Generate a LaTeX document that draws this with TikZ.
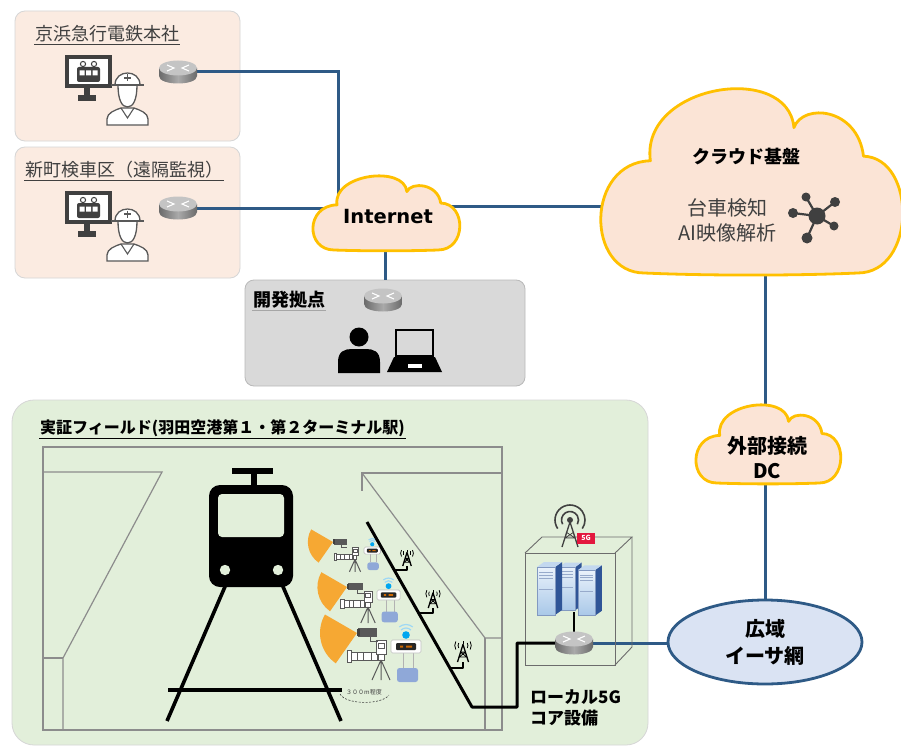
\documentclass[tikz,border=0pt]{standalone}
\usepackage{fontspec}
\setmainfont{Noto Sans CJK JP}
\newfontfamily\inetfont{DejaVu Sans}
\usetikzlibrary{shapes.geometric}

\definecolor{netblue}{HTML}{2E5A86}
\definecolor{peach}{HTML}{FBEBE1}
\definecolor{boxedge}{HTML}{D6D6D6}
\definecolor{cloudfill}{HTML}{FBE4D6}
\definecolor{cloudedge}{HTML}{FFC000}
\definecolor{fieldgreen}{HTML}{E2EFDA}
\definecolor{devgray}{HTML}{D9D9D9}
\definecolor{wanfill}{HTML}{DAE3F3}
\definecolor{darktext}{HTML}{404040}
\definecolor{icondark}{HTML}{404040}
\definecolor{iconline}{HTML}{595959}
\definecolor{trackgray}{HTML}{8C8C8C}
\definecolor{fanorange}{HTML}{F6A833}
\definecolor{wifiblue}{HTML}{00A6F0}
\definecolor{wifilight}{HTML}{9ED8F5}
\definecolor{battblue}{HTML}{8FA8D8}
\definecolor{badgered}{HTML}{E3173E}
\definecolor{srvlight}{HTML}{EAF2FB}
\definecolor{srvmid}{HTML}{A9C8E8}
\definecolor{srvdark}{HTML}{2F5597}
\definecolor{routertop}{HTML}{C4C4C4}
\definecolor{routerside}{HTML}{858585}

\pgfdeclarelayer{back}
\pgfdeclarelayer{wires}
\pgfsetlayers{back,wires,main}

% cloud outline in unit coordinates, placed at (#1,#2) with half sizes #3 x #4
\newcommand{\cloudat}[4]{%
  \path[cloudbody, shift={(#1,#2)}, xscale=#3, yscale=#4]
    (-0.72,1) .. controls (-1.12,1) and (-1.12,-0.2) .. (-0.68,-0.22)
    .. controls (-0.75,-1.05) and (0.25,-1.3) .. (0.29,-0.58)
    .. controls (0.35,-0.85) and (0.72,-0.8) .. (0.76,-0.27)
    .. controls (1.12,-0.25) and (1.12,1) .. (0.72,1)
    .. controls (0.3,1.03) and (-0.3,1.03) .. (-0.72,1) -- cycle;}

\tikzset{
  router/.pic={
    \shade[left color=routerside!80!black, right color=routerside!80!black, middle color=routerside!70!white]
      (-19,-4) -- (-19,4) .. controls (-19,14) and (19,14) .. (19,4) -- (19,-4) -- cycle;
    \fill[routertop] (0,-4) ellipse [x radius=19, y radius=7.5];
    \draw[white, line width=1.1pt] (-11,-7) -- (-4,-4) -- (-11,-1) (11,-7) -- (4,-4) -- (11,-1);
    \node[inner sep=0pt, minimum width=38pt, minimum height=24pt] (-n) at (0,0) {};
  },
  operator/.pic={
    % monitor showing a train
    \fill[icondark] (0,0) rectangle (47,33);
    \fill[white] (4,4) rectangle (43,29);
    \fill[icondark] (19,33) rectangle (25,40);
    \fill[icondark] (13,40) rectangle (31,46);
    \fill[icondark, rounded corners=2pt] (12,12) rectangle (35,27);
    \draw[icondark, fill=white, line width=1pt] (18,9) circle (2.6) (29,9) circle (2.6);
    \fill[white] (14.5,15.5) rectangle (19.5,20.5) (21,15.5) rectangle (26,20.5) (27.5,15.5) rectangle (32.5,20.5);
    % worker with helmet
    \draw[iconline, line width=1.3pt, fill=white] (42,70) -- (42,64) .. controls (42,58) and (50,55) .. (56,53)
      -- (69,53) .. controls (75,55) and (83,58) .. (83,64) -- (83,70) -- cycle;
    \draw[iconline, line width=1.1pt] (56,53) -- (62.5,63) -- (69,53);
    \draw[iconline, line width=1.3pt, fill=white] (53,30) .. controls (53,45) and (57,52) .. (62.5,52)
      .. controls (68,52) and (72,45) .. (72,30);
    \draw[iconline, line width=1.3pt, fill=white] (50,30) .. controls (50,14) and (75,14) .. (75,30) -- cycle;
    \draw[iconline, line width=1.5pt] (46,30) -- (79,30);
    \draw[iconline, line width=1.1pt] (62.5,19.5) -- (62.5,26.5) (59,23) -- (66,23);
  },
  tower/.pic={
    \draw[black, line width=1.3pt, line join=round] (-5,0) -- (0,-16) -- (5,0);
    \draw[black, line width=0.8pt] (-3.6,-4.5) -- (2.4,-9) (3.6,-4.5) -- (-2.4,-9) (-3.6,-4.5) -- (3.6,-4.5) (-2.4,-9) -- (2.4,-9);
    \draw[black, line width=1pt] (0,-16) -- (0,-19);
    \draw[black, line width=0.8pt] (0,-15) ++(150:4.5) arc[start angle=150, end angle=210, radius=4.5];
    \draw[black, line width=0.8pt] (0,-15) ++(150:7.5) arc[start angle=150, end angle=210, radius=7.5];
    \draw[black, line width=0.8pt] (0,-15) ++(-30:4.5) arc[start angle=-30, end angle=30, radius=4.5];
    \draw[black, line width=0.8pt] (0,-15) ++(-30:7.5) arc[start angle=-30, end angle=30, radius=7.5];
    \coordinate (-b) at (0,0);
  },
  camhead/.pic={
    \fill[fanorange] (0,0) -- (125:37) arc[start angle=125, end angle=210, radius=37] -- cycle;
    \fill[iconline] (1,-5) rectangle (20,4);
    \fill[icondark] (0,-4) rectangle (3,3);
    \draw[iconline, line width=1pt] (13,4) -- (13,8) -- (21,8);
  },
  station/.pic={
    \draw[iconline, line width=0.8pt, fill=white] (-34,10) rectangle (-30,22);
    \draw[iconline, line width=0.8pt, fill=white] (-30,12) rectangle (-4,20);
    \draw[iconline, line width=0.6pt] (-24,12) -- (-24,20) (-18,12) -- (-18,20) (-10,12) -- (-10,20);
    \draw[iconline, line width=0.8pt, fill=white] (-5,0) rectangle (5,14);
    \draw[iconline, line width=0.6pt] (-3,3) rectangle (3,8);
    \draw[iconline, line width=0.9pt, fill=white] (-3,14) rectangle (3,20);
    \draw[iconline, line width=1pt] (0,20) -- (-9,40) (0,20) -- (0,40) (0,20) -- (9,40);
  },
  logger/.pic={
    \draw[wifilight, line width=1.2pt] (15,-5) ++(225:7) arc[start angle=225, end angle=315, radius=7];
    \draw[wifilight, line width=1.2pt] (15,-5) ++(230:10.5) arc[start angle=230, end angle=310, radius=10.5];
    \fill[wifiblue] (15,-5) circle (3.8);
    \draw[gray!60, line width=0.6pt] (12,13) -- (12,28) (22,13) -- (22,28);
    \draw[gray!50, line width=0.6pt, fill=white, rounded corners=1.5pt] (0,0) rectangle (30,13);
    \fill[black!85, rounded corners=1pt] (5,3) rectangle (25,10);
    \fill[orange!80!black] (9,5.5) rectangle (12,7.5) (15,5.5) rectangle (21,7.5);
    \fill[battblue, rounded corners=2.5pt] (6,28) rectangle (27,42);
  },
  server/.pic={
    \fill[srvdark] (18,0) -- (25,-5) -- (25,43) -- (18,48) -- cycle;
    \fill[srvmid!70!white] (0,0) -- (7,-5) -- (25,-5) -- (18,0) -- cycle;
    \shade[top color=srvlight, bottom color=srvmid] (0,0) rectangle (18,48);
    \draw[srvdark!50, line width=0.4pt] (2,5) -- (16,5) (2,8) -- (16,8) (2,11) -- (16,11) (2,22) -- (16,22);
    \draw[srvdark!60, line width=0.4pt] (0,0) rectangle (18,48);
  },
}

\begin{document}
\begin{tikzpicture}[x=1pt, y=-1pt,
  wire/.style={draw=netblue, line width=3pt},
  cable/.style={draw=black, line width=3pt, line join=round},
  trackline/.style={draw=trackgray, line width=1.2pt},
  boxline/.style={draw=gray!85!black, line width=0.9pt},
  cloudbody/.style={fill=cloudfill, draw=cloudedge, line width=2.8pt, line join=round},
  sitebox/.style={fill=peach, draw=boxedge, line width=0.8pt, rounded corners=10pt, inner sep=0pt},
  sitetitle/.style={anchor=west, inner sep=1pt, text=darktext, font=\fontsize{18}{20}\selectfont},
  boldlabel/.style={inner sep=1pt, font=\bfseries\fontsize{18}{20}\selectfont},
]
\useasboundingbox (0,0) rectangle (901,749);

% ---------- panels ----------
\begin{pgfonlayer}{back}
  \fill[white] (0,0) rectangle (901,749);
  \node[sitebox, minimum width=225pt, minimum height=130pt] (hq) at (127.5,76) {};
  \node[sitebox, minimum width=225pt, minimum height=131pt] (depot) at (127.5,212.5) {};
  \node[fill=devgray, draw=gray!55, line width=0.8pt, rounded corners=9pt, inner sep=0pt,
        minimum width=280pt, minimum height=106pt] (dev) at (385,333) {};
  \node[fill=fieldgreen, draw=boxedge, line width=0.8pt, rounded corners=22pt, inner sep=0pt,
        minimum width=636pt, minimum height=345pt] (field) at (330,572.5) {};
\end{pgfonlayer}

% ---------- site titles ----------
\node[sitetitle] (t1) at (34,34) {京浜急行電鉄本社};
\draw[darktext, line width=1pt] ([yshift=-1pt]t1.south west) -- ([yshift=-1pt]t1.south east);
\node[sitetitle] (t2) at (24,170) {新町検車区（遠隔監視）};
\draw[darktext, line width=1pt] ([yshift=-1pt]t2.south west) -- ([yshift=-1pt]t2.south east);
\node[boldlabel, anchor=west] (t3) at (252,300) {開発拠点};
\draw[gray!70, line width=1.4pt] ([yshift=-1pt]t3.south west) -- ([yshift=-1pt]t3.south east);
\node[anchor=west, inner sep=1pt, font=\bfseries\fontsize{16}{18}\selectfont] (t4) at (39,428)
  {実証フィールド(羽田空港第１・第２ターミナル駅)};
\draw[black, line width=1pt] ([yshift=-1pt]t4.south west) -- ([yshift=-1pt]t4.south east);

% ---------- operator icons and routers ----------
\pic at (65,55) {operator};
\pic at (65,191) {operator};
\pic (r1) at (178,72) {router};
\pic (r2) at (178,208) {router};
\pic (r3) at (383,300) {router};

% developer and laptop
\fill[black] (359,337) circle (9.5);
\fill[black] (338,373) -- (338,362) .. controls (338,351) and (345,349) .. (352,349) -- (366,349)
  .. controls (373,349) and (380,351) .. (380,362) -- (380,373) -- cycle;
\draw[black, line width=2.8pt] (396,330) rectangle (433,356);
\fill[black] (394,357) -- (435,357) -- (442,372) -- (387,372) -- cycle;
\fill[white] (408,364) rectangle (422,367.5);

% ---------- clouds ----------
\coordinate (inA) at (338,196);
\coordinate (inB) at (330,208);
\coordinate (inC) at (440,206);
\coordinate (inS) at (385,240);
\coordinate (cbW) at (625,206);
\coordinate (cbS) at (765,262);
\coordinate (dcN) at (765,420);
\coordinate (dcS) at (765,470);

\cloudat{386}{213}{72}{37}
\cloudat{751}{181}{148}{92}
\cloudat{768}{444}{71}{39}

\node[inner sep=1pt, font=\inetfont\bfseries\fontsize{19.5}{21}\selectfont] (inet) at (388,217) {Internet};
\node[boldlabel] (cb) at (746,157) {クラウド基盤};
\node[inner sep=1pt, align=center, text=darktext, font=\fontsize{20}{25}\selectfont] (ai) at (727,220)
  {台車検知\\AI映像解析};
\node[inner sep=1pt, align=center, font=\bfseries\fontsize{20}{25}\selectfont] (dc) at (767,458)
  {外部接続\\DC};

% analysis network icon
\foreach \px/\py/\pr in {806/197/4.5, 835/202/5, 793/213/5, 834/226/4.5, 807/238/5.5} {
  \draw[icondark, line width=2.2pt] (817,216) -- (\px,\py);
  \fill[icondark] (\px,\py) circle (\pr);
}
\fill[icondark] (817,216) circle (8.5);

% wide area network
\node[ellipse, fill=wanfill, draw=netblue, line width=2.8pt, inner sep=0pt,
      minimum width=194pt, minimum height=84pt, align=center,
      font=\bfseries\fontsize{20}{27}\selectfont] (wan) at (765,642) {広域\\イーサ網};

% ---------- field drawing ----------
\draw[trackline] (43,447) rectangle (502,730);
\draw[trackline] (43,472) -- (162,472) -- (63,658) -- (63,730);
\draw[trackline] (43,658) -- (63,658);
\draw[trackline] (502,473) -- (362,473) -- (362,491);
\draw[trackline] (362,473) -- (485,638) -- (502,638);
\draw[trackline] (485,638) -- (485,730);

% rails and train
\draw[black, line width=3.6pt] (227,582) -- (167,721);
\draw[black, line width=3.6pt] (281,582) -- (341,721);
\draw[black, line width=3.4pt] (168,690) -- (342,690);
\fill[black] (232,468) rectangle (273,474);
\fill[black] (251,473) rectangle (257,489);
\fill[black, rounded corners=11pt] (209,485) rectangle (293,587);
\fill[fieldgreen, rounded corners=4pt] (218,494) rectangle (284,537);
\fill[fieldgreen] (225,570) circle (5.2) (278,570) circle (5.2);

\draw[darktext, line width=0.6pt, dash pattern=on 2pt off 1.5pt] (340,694) .. controls (346,705) and (382,705) .. (389,695);
\node[inner sep=0pt, text=darktext, font=\fontsize{6}{6}\selectfont] (dist) at (364,692) {３００m程度};

% cameras, survey stations and loggers
\pic[scale=0.62] at (355,547) {station};
\pic[scale=0.68] at (333,542) {camhead};
\pic[scale=0.55] at (364,547) {logger};
\pic[scale=0.8] at (368,591) {station};
\pic[scale=0.8] at (347,587) {camhead};
\pic[scale=0.77] at (377,590) {logger};
\pic at (381,640) {station};
\pic at (357,633) {camhead};
\pic at (391,640) {logger};

% local 5G core box
\draw[boxline] (525,553) -- (542,537) -- (632,537) -- (615,553);
\draw[boxline] (632,537) -- (632,647) -- (615,665);
\draw[boxline] (525,553) rectangle (615,665);
\draw[icondark, line width=1.3pt, line join=round] (562,547) -- (570,522) -- (578,547);
\draw[icondark, line width=0.8pt] (565,538) -- (574,532) (575,538) -- (566,532) (565,538) -- (575,538);
\fill[icondark] (570,520) circle (3);
\draw[icondark, line width=1.6pt] (570,520) ++(150:8.5) arc[start angle=150, end angle=390, radius=8.5];
\draw[icondark, line width=1.6pt] (570,520) ++(145:15) arc[start angle=145, end angle=395, radius=15];
\node[fill=badgered, text=white, inner sep=0pt, minimum width=18pt, minimum height=11pt,
      font=\bfseries\fontsize{7}{7}\selectfont] (badge) at (586,538) {5G};

\pic[scale=0.9] at (559,567) {server};
\pic at (537,567) {server};
\pic[scale=0.95] at (578,570) {server};

\coordinate (srv) at (574,612);
\draw[black, line width=2.6pt] (srv) -- (574,632);
\pic (r5) at (574,643) {router};
\node[anchor=west, align=left, inner sep=1pt, font=\bfseries\fontsize{17}{21}\selectfont] (corelbl) at (529,708)
  {ローカル5G\\コア設備};

% antennas along the track cable
\pic[scale=0.85] (a1) at (407,566) {tower};
\pic[scale=0.95] (a2) at (433,608) {tower};
\pic[scale=1.1] (a3) at (463,662) {tower};
\coordinate (k1) at (394,570);
\coordinate (k2) at (419,613);
\coordinate (k3) at (450,668);
\coordinate (c0) at (367,522);
\coordinate (c1) at (472,707);
\coordinate (c2) at (517,707);
\draw[cable] (c0) -- (c1) -- (c2) |- (r5-n.west);
\draw[cable, line width=2.6pt] (a1-b) |- (k1);
\draw[cable, line width=2.6pt] (a2-b) |- (k2);
\draw[cable, line width=2.6pt] (a3-b) |- (k3);

% ---------- network links ----------
\begin{pgfonlayer}{wires}
  \draw[wire] (r1-n.east) -| (inA);
  \draw[wire] (r2-n.east) -- (r2-n.east -| inB);
  \draw[wire] (inC) -- (cbW);
  \draw[wire] (inS) -- (dev.north -| inS);
  \draw[wire] (cbS) -- (dcN);
  \draw[wire] (dcS) -- (wan.north);
  \draw[wire] (r5-n.east) -- (r5-n.east -| wan.west);
\end{pgfonlayer}
\end{tikzpicture}
\end{document}
